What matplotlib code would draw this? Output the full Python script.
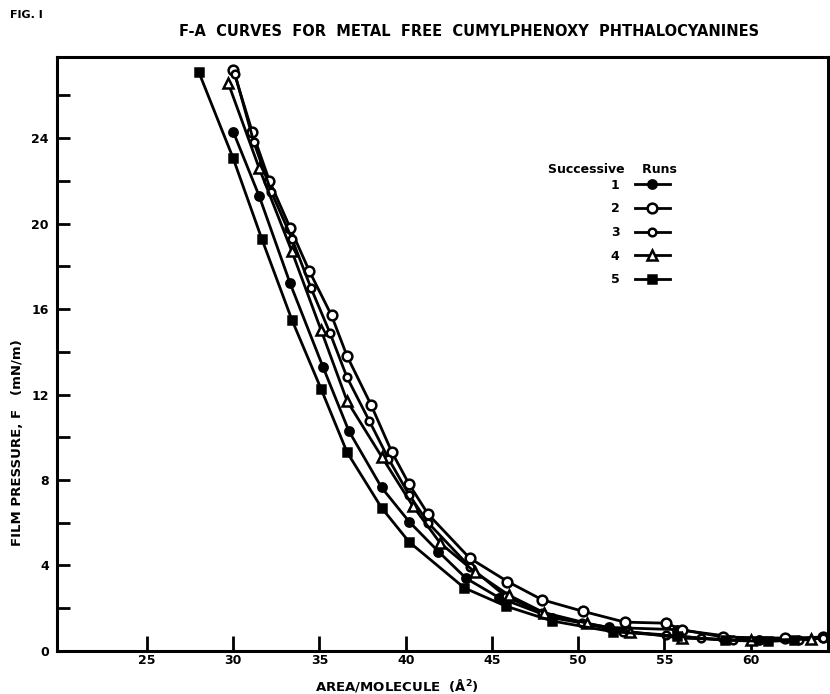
import matplotlib
matplotlib.use("Agg")
import matplotlib.pyplot as plt
from matplotlib.ticker import FixedLocator, FuncFormatter

# ── data (area in A^2, pressure in mN/m) ──
run1_area = [30.0, 31.5, 33.3, 35.2, 36.7, 38.6, 40.2, 41.9, 43.5, 45.4, 48.5, 51.8, 55.7, 60.5]
run1_f = [24.3, 21.3, 17.2, 13.3, 10.3, 7.65, 6.05, 4.65, 3.4, 2.5, 1.55, 1.1, 1.0, 0.5]

run2_area = [30.0, 31.1, 32.1, 33.3, 34.4, 35.7, 36.6, 38.0, 39.2, 40.2, 41.3, 43.7, 45.9,
             47.9, 50.3, 52.7, 55.1, 56.0, 58.4, 62.0, 64.2]
run2_f = [27.2, 24.3, 22.0, 19.8, 17.8, 15.7, 13.8, 11.5, 9.3, 7.8, 6.4, 4.35, 3.25,
          2.4, 1.85, 1.35, 1.3, 1.0, 0.65, 0.6, 0.65]

run3_area = [30.1, 31.2, 32.2, 33.4, 34.5, 35.6, 36.6, 37.9, 39.0, 40.2, 41.3, 43.7, 45.8,
             47.9, 50.2, 52.6, 55.1, 57.1, 59.0, 62.8, 64.2]
run3_f = [27.0, 23.8, 21.5, 19.3, 17.0, 14.9, 12.8, 10.75, 9.0, 7.3, 6.0, 3.95, 2.55,
          1.8, 1.3, 0.9, 0.75, 0.6, 0.5, 0.5, 0.6]

run4_area = [29.7, 31.5, 33.4, 35.1, 36.6, 38.6, 40.4, 42.0, 44.0, 46.0, 48.0, 50.5, 53.0,
             56.0, 60.0, 63.5]
run4_f = [26.6, 22.6, 18.7, 15.0, 11.7, 9.1, 6.8, 5.05, 3.7, 2.6, 1.8, 1.3, 0.9,
          0.6, 0.5, 0.55]

run5_area = [28.0, 30.0, 31.65, 33.4, 35.1, 36.6, 38.6, 40.2, 43.4, 45.8, 48.5, 52.0, 55.7,
             58.5, 61.0, 62.5]
run5_f = [27.1, 23.05, 19.3, 15.5, 12.25, 9.3, 6.7, 5.1, 2.95, 2.1, 1.4, 0.9, 0.7,
          0.5, 0.45, 0.5]

run_labels = ["1", "2", "3", "4", "5"]
x_ticks = [25, 30, 35, 40, 45, 50, 55, 60]
y_ticks = [0, 2, 4, 6, 8, 10, 12, 14, 16, 18, 20, 22, 24, 26]

plt.rcParams["font.family"] = ["DejaVu Sans"]
plt.rcParams["font.weight"] = "bold"

fig = plt.figure(figsize=(8.3, 6.94), dpi=100)
ax = fig.add_axes([0.069, 0.062, 0.929, 0.856])

series = [
    (run1_area, run1_f, dict(marker="o", markersize=6, markerfacecolor="black")),
    (run2_area, run2_f, dict(marker="o", markersize=7, markerfacecolor="white")),
    (run3_area, run3_f, dict(marker="o", markersize=5.5, markerfacecolor="white")),
    (run4_area, run4_f, dict(marker="^", markersize=6.5, markerfacecolor="white")),
    (run5_area, run5_f, dict(marker="s", markersize=6, markerfacecolor="black")),
]
for (xs, ys, mk), lab in zip(series, run_labels):
    ax.plot(xs, ys, color="black", linewidth=2.0, markeredgecolor="black",
            markeredgewidth=1.8, label=lab, **mk)

ax.set_xlim(19.8, 64.5)
ax.set_ylim(0, 27.8)

for s in ax.spines.values():
    s.set_linewidth(2.2)

ax.xaxis.set_major_locator(FixedLocator(x_ticks))
ax.yaxis.set_major_locator(FixedLocator(y_ticks))
ax.yaxis.set_major_formatter(FuncFormatter(lambda v, p: f"{int(v)}" if v % 4 == 0 else ""))
ax.tick_params(axis="x", direction="in", length=11, width=2, labelsize=9, pad=2)
ax.tick_params(axis="y", direction="in", length=9, width=2, labelsize=9, pad=6)
ax.tick_params(top=False, right=False)

ax.set_xlabel("AREA/MOLECULE  (Å$^{2}$)", fontsize=9.5, fontweight="bold")
ax.xaxis.set_label_coords(0.441, -0.043)
ax.set_ylabel("FILM PRESSURE, F   (mN/m)", fontsize=9.5, fontweight="bold")
ax.yaxis.set_label_coords(-0.043, 0.35)

fig.text(0.012, 0.985, "FIG. I", fontsize=8, fontweight="bold", va="top")
fig.text(0.565, 0.955, "F-A  CURVES  FOR  METAL  FREE  CUMYLPHENOXY  PHTHALOCYANINES",
         fontsize=10.5, fontweight="bold", ha="center", va="center")

# legend: heading on its own, entries indented with the number left of the symbol
ax.text(0.637, 0.81, "Successive    Runs", transform=ax.transAxes, fontsize=9,
        fontweight="bold", ha="left", va="center")
ax.legend(loc="upper left", bbox_to_anchor=(0.718, 0.795), frameon=False,
          markerfirst=False, handlelength=2.8, handletextpad=1.2, labelspacing=0.85,
          borderpad=0, borderaxespad=0, fontsize=9)

fig.savefig("out.png", dpi=100, facecolor="white")
